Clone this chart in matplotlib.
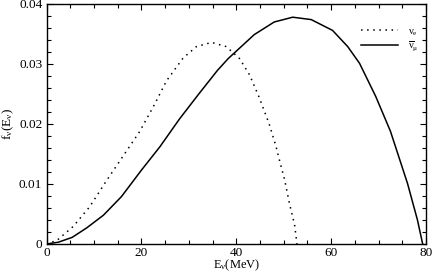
import matplotlib
matplotlib.use("Agg")
import matplotlib.pyplot as plt
from matplotlib.ticker import MultipleLocator

# nu_e spectrum (dotted)
nue_E = [0, 2.2, 5.6, 9.1, 12.6, 16.1, 19.6, 22.8, 25.3, 28.8, 31.6, 34.8,
         37.9, 40.7, 42.8, 44.8, 46.9, 48.3, 49.1, 50.2, 51.2, 52.3, 52.8]
nue_f = [0, 0.0006, 0.0029, 0.0062, 0.0105, 0.0146, 0.0187, 0.0233, 0.0272,
         0.0310, 0.0329, 0.0336, 0.0329, 0.0309, 0.0282, 0.0245, 0.0201,
         0.0165, 0.0140, 0.0107, 0.0068, 0.0032, 0.0]

# anti nu_mu spectrum (solid)
numubar_E = [0, 2.5, 5.4, 8.5, 12.0, 15.8, 20.0, 23.9, 28.0, 32.0, 36.0, 38.3,
             40.5, 43.8, 48.0, 51.9, 55.8, 60.3, 63.5, 66.0, 69.4, 72.5,
             76.1, 78.2, 79.3]
numubar_f = [0, 0.0003, 0.0011, 0.0027, 0.0048, 0.0079, 0.0123, 0.0162,
             0.0208, 0.0249, 0.0289, 0.0309, 0.0325, 0.0349, 0.0370, 0.0378,
             0.0374, 0.0356, 0.0329, 0.0301, 0.0246, 0.0188, 0.0101, 0.0040, 0.0]

yticks = [0, 0.01, 0.02, 0.03, 0.04]
ytick_labels = ["0", "0.01", "0.02", "0.03", "0.04"]

plt.rcParams["font.family"] = ["Liberation Serif", "DejaVu Serif"]
plt.rcParams["mathtext.fontset"] = "custom"
plt.rcParams["mathtext.rm"] = "Liberation Serif"
plt.rcParams["mathtext.it"] = "Liberation Serif:italic"

fig = plt.figure(figsize=(4.36, 2.73), dpi=100)
ax = fig.add_axes([46.5 / 436, 29 / 273, 379.5 / 436, 240 / 273])

ax.plot(nue_E, nue_f, color="black", lw=1.1, linestyle=(0, (1, 3)),
        label=r"$\mathrm{\nu}_\mathrm{e}$")
ax.plot(numubar_E, numubar_f, color="black", lw=1.1,
        label=r"$\overline{\mathrm{\nu}}_\mathrm{\mu}$")

ax.set_xlim(0, 80)
ax.set_ylim(0, 0.04)
ax.xaxis.set_major_locator(MultipleLocator(20))
ax.xaxis.set_minor_locator(MultipleLocator(5))
ax.set_yticks(yticks)
ax.set_yticklabels(ytick_labels)
ax.yaxis.set_minor_locator(MultipleLocator(0.002))

ax.tick_params(which="both", direction="in", top=True, right=True,
               labelsize=9.5, width=0.8, pad=3)
ax.tick_params(axis="x", pad=2)
ax.tick_params(which="major", length=4.5)
ax.tick_params(which="minor", length=3)
for sp in ax.spines.values():
    sp.set_linewidth(1.0)

ax.set_xlabel(r"E$_\mathrm{\nu}$(MeV)", fontsize=9)
ax.xaxis.set_label_coords(0.5, -0.057)
ax.set_ylabel(r"f$_\mathrm{\nu}$(E$_\mathrm{\nu}$)", fontsize=9.5)
ax.yaxis.set_label_coords(-0.08, 0.5)

ax.legend(loc="upper left", bbox_to_anchor=(0.828, 0.905), frameon=False,
          fontsize=7.5, handlelength=3.6, handletextpad=0.9, labelspacing=0.15,
          borderpad=0, borderaxespad=0)

fig.savefig("out.png", dpi=100)
